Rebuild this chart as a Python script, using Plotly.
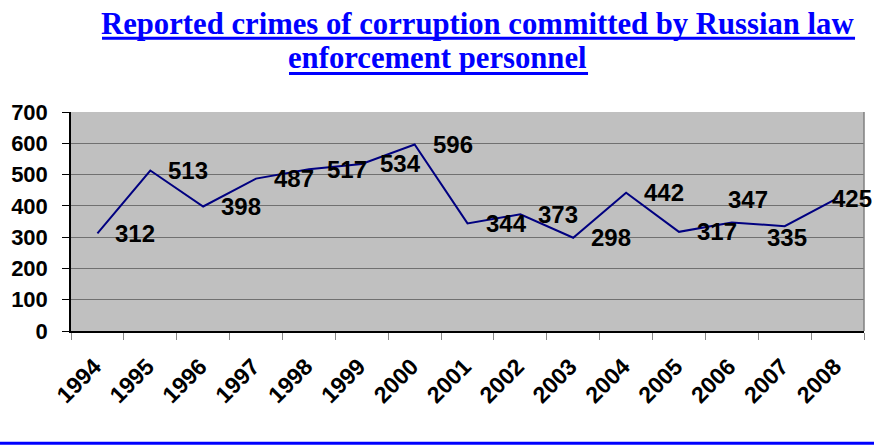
import plotly.graph_objects as go

years = ["1994", "1995", "1996", "1997", "1998", "1999", "2000", "2001",
         "2002", "2003", "2004", "2005", "2006", "2007", "2008"]
crimes = [312, 513, 398, 487, 517, 534, 596, 344, 373, 298, 442, 317, 347, 335, 425]
y_ticks = [0, 100, 200, 300, 400, 500, 600, 700]
title_line1 = "Reported crimes of corruption committed by Russian law"
title_line2 = "enforcement personnel"

# label offsets (pixels) - styling only
label_dx = [16] * 12 + [-6, -20, -8]
label_dy = [0] * 12 + [23, -11, 0]

FONT = "Liberation Sans, Arial, sans-serif"
SERIF = "Liberation Serif, Times New Roman, serif"

x_idx = list(range(len(years)))

fig = go.Figure()
fig.add_trace(go.Scatter(
    x=x_idx, y=crimes, mode="lines",
    line=dict(color="#000080", width=2),
    hoverinfo="y", showlegend=False,
))

annotations = []
for i, v, dx, dy in zip(x_idx, crimes, label_dx, label_dy):
    annotations.append(dict(
        x=i, y=v, xref="x", yref="y", text=f"<b>{v}</b>", showarrow=False,
        xanchor="left", yanchor="middle", xshift=dx, yshift=dy,
        font=dict(family=FONT, size=24, color="black"),
    ))

annotations.append(dict(
    x=0.0353, y=1.4026, xref="paper", yref="paper", text=f"<b>{title_line1}</b>",
    showarrow=False, xanchor="left", yanchor="middle",
    font=dict(family=SERIF, size=30.7, color="#0000FF"),
))
annotations.append(dict(
    x=0.271, y=1.2444, xref="paper", yref="paper", text=f"<b>{title_line2}</b>",
    showarrow=False, xanchor="left", yanchor="middle",
    font=dict(family=SERIF, size=30.7, color="#0000FF"),
))

shapes = [
    dict(type="line", xref="paper", yref="paper", x0=0.0391, x1=0.9887,
         y0=1.3364, y1=1.3364, line=dict(color="#0000FF", width=3)),
    dict(type="line", xref="paper", yref="paper", x0=0.2749, x1=0.652,
         y0=1.1762, y1=1.1762, line=dict(color="#0000FF", width=3)),
    dict(type="line", xref="paper", yref="paper", x0=-0.1, x1=1.02,
         y0=-0.5126, y1=-0.5126, line=dict(color="#0000FF", width=3)),
    dict(type="line", xref="paper", yref="paper", x0=1, x1=1,
         y0=0, y1=1, line=dict(color="#808080", width=1.5)),
]

fig.update_layout(
    width=874, height=445,
    margin=dict(l=71, r=10, t=112, b=114, autoexpand=False),
    paper_bgcolor="white", plot_bgcolor="#C0C0C0",
    annotations=annotations, shapes=shapes,
    xaxis=dict(
        range=[-0.5, 14.5], tickvals=x_idx, ticktext=years, tickangle=-45,
        ticks="", showgrid=False, showline=True, linecolor="black", linewidth=2,
        zeroline=False, automargin=False, ticklabelstandoff=11, ticklabelshift=-3,
        minor=dict(tickvals=[i - 0.5 for i in range(len(years) + 1)],
                   ticks="outside", ticklen=7, tickcolor="#888888", showgrid=False),
        tickfont=dict(family=FONT, size=23, color="black", weight="bold"),
        fixedrange=True,
    ),
    yaxis=dict(
        range=[0, 700], tickvals=y_ticks, ticks="outside", ticklen=7,
        tickcolor="black", showgrid=True, gridcolor="#707070", gridwidth=1,
        showline=True, linecolor="black", linewidth=1.5, zeroline=False,
        ticklabelstandoff=10, automargin=False,
        tickfont=dict(family=FONT, size=22, color="black", weight="bold"),
        fixedrange=True,
    ),
)

# remove the default 8px page margin so the figure fills the window exactly
fig.write_html(
    "out.html",
    config={"displayModeBar": False},
    post_script="document.body.style.margin='0';document.body.style.overflow='hidden';",
)
